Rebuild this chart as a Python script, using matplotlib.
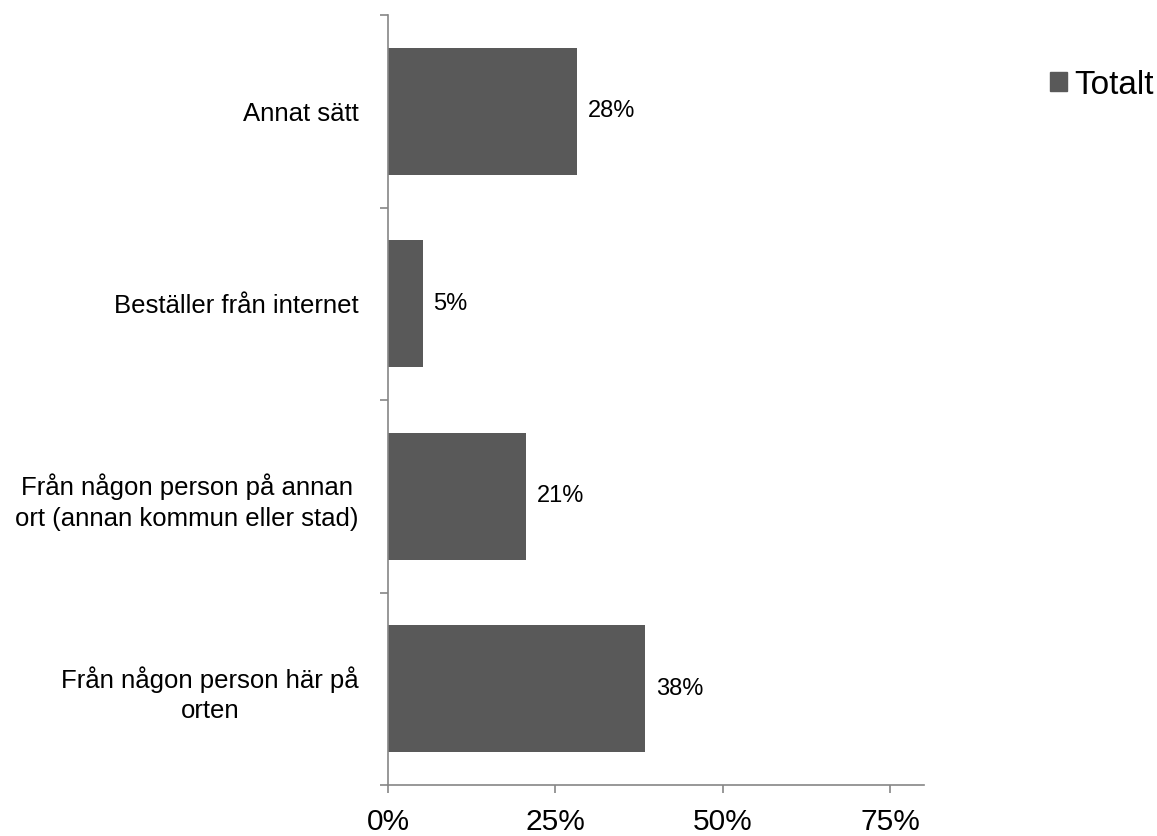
import matplotlib.pyplot as plt
from matplotlib.patches import Patch

plt.rcParams['font.family'] = ['Liberation Sans', 'DejaVu Sans']

categories = ['Från någon person här på\norten',
              'Från någon person på annan\nort (annan kommun eller stad)',
              'Beställer från internet',
              'Annat sätt']
values = [0.384, 0.206, 0.052, 0.282]
series_name = 'Totalt'
xticks = [0, 0.25, 0.5, 0.75]
xtick_labels = ['0%', '25%', '50%', '75%']

bar_color = '#595959'
axis_color = '#868686'

fig = plt.figure(figsize=(11.57, 8.36), dpi=100)
ax = fig.add_axes([0.3353, 0.061, 0.4633, 0.921])

pos = list(range(len(categories)))
ax.barh(pos, values, height=0.66, color=bar_color, zorder=2)
for p, v in zip(pos, values):
    ax.text(v + 0.016, p, '%d%%' % round(v * 100), va='center', ha='left', fontsize=17)

ax.set_xlim(0, 0.8)
ax.set_ylim(-0.5, len(categories) - 0.5)
ax.set_xticks(xticks)
ax.set_xticklabels(xtick_labels, fontsize=21.5)

# category labels sit between the boundary ticks
ax.set_yticks([p - 0.5 for p in pos] + [len(categories) - 0.5])
ax.set_yticklabels([])
ax.set_yticks(pos, minor=True)
ax.set_yticklabels(categories, minor=True, fontsize=18.5, multialignment='center',
                   linespacing=1.35)
ax.tick_params(axis='y', which='minor', length=0, pad=21)
ax.tick_params(axis='y', which='major', length=6, color=axis_color, width=1.2)
ax.tick_params(axis='x', length=5.5, color=axis_color, width=1.2, pad=11)

for s in ['top', 'right']:
    ax.spines[s].set_visible(False)
for s in ['left', 'bottom']:
    ax.spines[s].set_color(axis_color)
    ax.spines[s].set_linewidth(1.2)

fig.legend(handles=[Patch(color=bar_color, label=series_name)], loc='center left',
           bbox_to_anchor=(1050 / 1157, 1 - 85 / 836), frameon=False, fontsize=24,
           borderpad=0, borderaxespad=0,
           handlelength=0.52, handleheight=0.52, handletextpad=0.2)

fig.savefig('out.png')
